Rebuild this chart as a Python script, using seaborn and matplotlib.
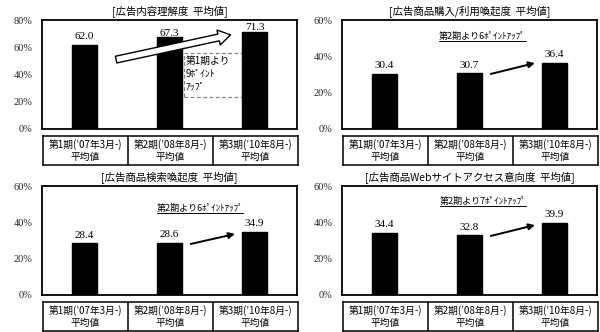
import matplotlib
matplotlib.use("Agg")
import matplotlib.pyplot as plt
import seaborn as sns
import pandas as pd
from matplotlib.patches import Rectangle, FancyArrowPatch
from matplotlib.ticker import FuncFormatter

sns.set_theme(style="white")
plt.rcParams['font.family'] = ['Noto Sans CJK JP', 'DejaVu Sans']

# ---- data ----
periods = ["第1期(’07年3月-)\n平均値", "第2期(’08年8月-)\n平均値", "第3期(’10年8月-)\n平均値"]
titles = ["[広告内容理解度  平均値]", "[広告商品購入/利用喚起度  平均値]",
          "[広告商品検索喚起度  平均値]", "[広告商品Webサイトアクセス意向度  平均値]"]
understanding = [62.0, 67.3, 71.3]
purchase = [30.4, 30.7, 36.4]
search = [28.4, 28.6, 34.9]
web_access = [34.4, 32.8, 39.9]
ymax = [80, 60, 60, 60]
notes = ["第1期より\n9ﾎﾟｲﾝﾄ\nｱｯﾌﾟ", "第2期より6ﾎﾟｲﾝﾄｱｯﾌﾟ", "第2期より6ﾎﾟｲﾝﾄｱｯﾌﾟ", "第2期より7ﾎﾟｲﾝﾄｱｯﾌﾟ"]
series = [understanding, purchase, search, web_access]

W, H = 600, 332
fig = plt.figure(figsize=(6.0, 3.32), dpi=100)

def frac(x0, y0, x1, y1):
    return [x0 / W, (H - y1) / H, (x1 - x0) / W, (y1 - y0) / H]

plot_boxes = [frac(42, 20, 297, 129), frac(342, 20, 597, 129),
              frac(42, 186, 297, 295), frac(342, 186, 597, 295)]
table_boxes = [frac(43, 136, 298, 165), frac(343, 136, 598, 165),
               frac(43, 302, 298, 331), frac(343, 302, 598, 331)]

serif = ['Liberation Serif', 'DejaVu Serif']
renderer = fig.canvas.get_renderer()

for i in range(4):
    ax = fig.add_axes(plot_boxes[i])
    df = pd.DataFrame({"period": periods, "value": series[i]})
    sns.barplot(data=df, x="period", y="value", color="black", width=0.3,
                saturation=1, ax=ax, zorder=3)
    ax.set_xlim(-0.5, 2.5)
    ax.set_ylim(0, ymax[i])
    for p in ax.patches:
        p.set_edgecolor("black")
        top = p.get_height()
        # keep label inside the frame when the bar is close to the top
        pad = 4 if top < ymax[i] * 0.8 else 1.0
        ax.annotate(f"{top:.1f}", (p.get_x() + p.get_width() / 2, top),
                    xytext=(0, pad), textcoords="offset points",
                    ha="center", va="baseline", fontsize=8, family=serif,
                    color="black")
    ax.set_yticks(range(0, ymax[i] + 1, 20))
    ax.yaxis.set_major_formatter(FuncFormatter(lambda v, _: f"{int(v)}%"))
    ax.set_xticks([])
    ax.set_xlabel("")
    ax.set_ylabel("")
    ax.tick_params(axis="y", length=0, pad=7, labelsize=7.5)
    for lab in ax.get_yticklabels():
        lab.set_family(serif)
    for s in ax.spines.values():
        s.set_visible(True)
        s.set_color("black")
        s.set_linewidth(1.3)
    ax.set_title(titles[i], fontsize=7.5, pad=4, color="black")

    if i == 0:
        arr = FancyArrowPatch((0.34, 50.5), (1.75, 69.5),
                              arrowstyle="simple,head_width=1.0,head_length=0.8,tail_width=0.45",
                              mutation_scale=11, fc="white", ec="black", lw=1.0, zorder=5)
        ax.add_patch(arr)
        box = Rectangle((1.17, 23.5), 0.68, 32.3, fill=False, ec="#888888",
                        ls=(0, (3, 2)), lw=0.9, zorder=2)
        ax.add_patch(box)
        ax.text(1.19, 53.5, notes[i], fontsize=7, va="top", ha="left",
                linespacing=1.35, color="black", zorder=4)
    else:
        ny = {1: 51.2, 2: 47.9, 3: 51.7}[i]
        nx = {1: 1.15, 2: 1.36, 3: 1.16}[i]
        t = ax.text(nx, ny, notes[i], fontsize=6.5, ha="center", va="center",
                    color="black")
        bb = t.get_window_extent(renderer=renderer)
        inv = ax.transData.inverted()
        (x0, y0), (x1, _) = inv.transform([[bb.x0, bb.y0], [bb.x1, bb.y1]])
        ax.plot([x0, x1], [y0 - 0.3, y0 - 0.3], color="black", lw=0.7)
        start_y = {1: 30.3, 2: 28.1, 3: 32.5}[i]
        end_y = {1: 36.3, 2: 33.6, 3: 38.5}[i]
        ax.annotate("", xy=(1.77, end_y), xytext=(1.25, start_y),
                    arrowprops=dict(arrowstyle="-|>", color="black", lw=1.4,
                                    mutation_scale=9, shrinkA=0, shrinkB=0),
                    zorder=5)

    tax = fig.add_axes(table_boxes[i])
    tax.set_xlim(-0.5, 2.5)
    tax.set_ylim(0, 1)
    tax.set_xticks([])
    tax.set_yticks([])
    for s in tax.spines.values():
        s.set_visible(True)
        s.set_color("black")
        s.set_linewidth(1.1)
    for b in (0.5, 1.5):
        tax.axvline(b, color="black", lw=1.1)
    for k, lab in enumerate(periods):
        tax.text(k, 0.5, lab, ha="center", va="center", fontsize=7,
                 linespacing=1.15, color="black")

fig.savefig("out.png", dpi=100, facecolor="white")
